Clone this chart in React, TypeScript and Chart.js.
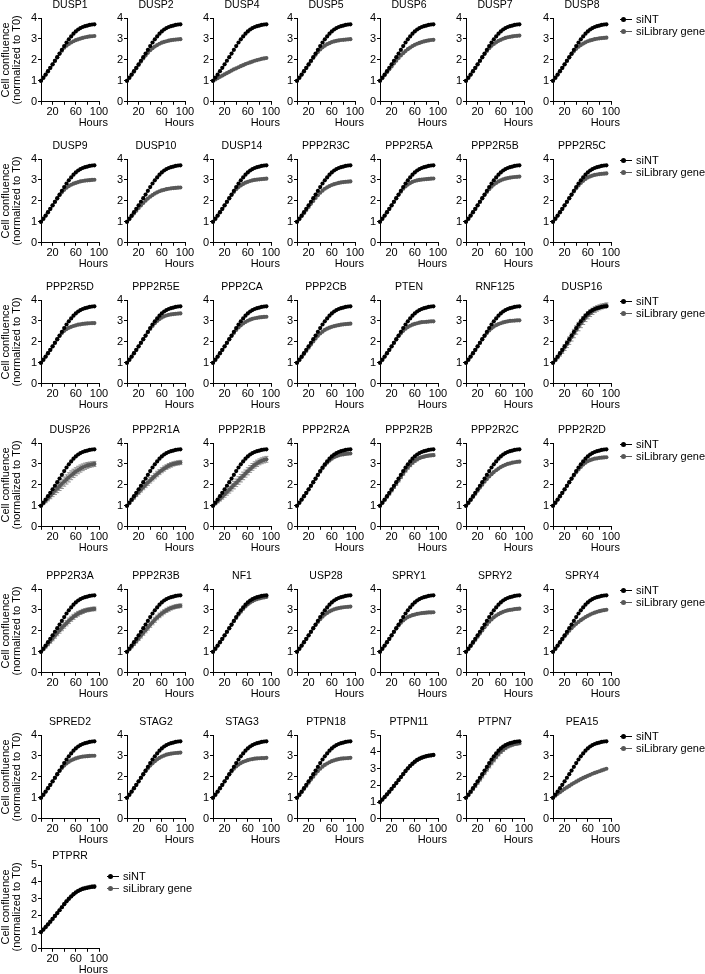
import React, { useEffect, useRef } from 'react';
import { Chart, registerables } from 'chart.js';

Chart.register(...registerables);
Chart.defaults.font.family = "'Liberation Sans', Arial, sans-serif";
Chart.defaults.color = '#000';

// ---------- data ----------
const hours = [0, 4, 8, 12, 16, 20, 24, 28, 32, 36, 40, 44, 48, 52, 56, 60, 64, 68, 72, 76, 80, 84, 88, 92];
const xTickLabels = [20, 60, 100];
const legendLabels = ['siNT', 'siLibrary gene'];
const yTitle = ['Cell confluence', '(normalized to T0)'];

const siNT = [1.00, 1.15, 1.30, 1.46, 1.62, 1.79, 1.96, 2.13, 2.30, 2.48, 2.66, 2.83, 2.98, 3.12, 3.25, 3.36, 3.45, 3.52, 3.57, 3.61, 3.64, 3.67, 3.69, 3.70];
const siNT_PTPN11 = [1.00, 1.15, 1.30, 1.46, 1.62, 1.79, 1.96, 2.13, 2.31, 2.49, 2.67, 2.85, 3.01, 3.16, 3.29, 3.41, 3.51, 3.59, 3.65, 3.70, 3.74, 3.77, 3.79, 3.81];

const DUSP1 = [1.00, 1.14, 1.29, 1.45, 1.61, 1.78, 1.95, 2.12, 2.29, 2.44, 2.58, 2.68, 2.76, 2.83, 2.89, 2.94, 2.98, 3.02, 3.05, 3.08, 3.10, 3.12, 3.13, 3.14];
const DUSP2 = [1.00, 1.14, 1.29, 1.44, 1.60, 1.76, 1.92, 2.07, 2.21, 2.34, 2.46, 2.56, 2.64, 2.71, 2.77, 2.82, 2.86, 2.89, 2.92, 2.94, 2.96, 2.97, 2.98, 2.99];
const DUSP4 = [1.00, 1.07, 1.13, 1.19, 1.25, 1.31, 1.37, 1.43, 1.49, 1.55, 1.60, 1.65, 1.70, 1.75, 1.80, 1.84, 1.88, 1.92, 1.96, 1.99, 2.02, 2.05, 2.07, 2.09];
const DUSP5 = [1.00, 1.14, 1.29, 1.45, 1.61, 1.77, 1.93, 2.09, 2.24, 2.38, 2.50, 2.60, 2.68, 2.75, 2.80, 2.85, 2.88, 2.91, 2.93, 2.95, 2.96, 2.97, 2.98, 2.99];
const DUSP6 = [1.00, 1.13, 1.27, 1.41, 1.55, 1.69, 1.83, 1.96, 2.09, 2.21, 2.32, 2.42, 2.51, 2.59, 2.66, 2.72, 2.77, 2.81, 2.85, 2.88, 2.91, 2.93, 2.95, 2.96];
const DUSP7 = [1.00, 1.14, 1.29, 1.45, 1.61, 1.78, 1.95, 2.12, 2.28, 2.43, 2.56, 2.67, 2.76, 2.84, 2.91, 2.96, 3.01, 3.05, 3.08, 3.10, 3.12, 3.14, 3.15, 3.16];
const DUSP8 = [1.00, 1.14, 1.29, 1.45, 1.61, 1.78, 1.95, 2.11, 2.27, 2.41, 2.53, 2.63, 2.71, 2.78, 2.84, 2.89, 2.93, 2.96, 2.99, 3.01, 3.03, 3.04, 3.05, 3.06];

const DUSP9 = [1.00, 1.14, 1.29, 1.45, 1.61, 1.78, 1.95, 2.11, 2.27, 2.41, 2.53, 2.63, 2.71, 2.77, 2.82, 2.86, 2.90, 2.93, 2.95, 2.97, 2.98, 2.99, 3.00, 3.01];
const DUSP10 = [1.00, 1.13, 1.27, 1.40, 1.53, 1.66, 1.78, 1.90, 2.01, 2.11, 2.20, 2.28, 2.35, 2.41, 2.46, 2.50, 2.53, 2.56, 2.58, 2.60, 2.61, 2.62, 2.63, 2.64];
const DUSP14 = [1.00, 1.14, 1.29, 1.45, 1.61, 1.78, 1.95, 2.12, 2.28, 2.43, 2.56, 2.66, 2.74, 2.81, 2.87, 2.91, 2.95, 2.98, 3.00, 3.02, 3.03, 3.04, 3.05, 3.06];
const PPP2R3C = [1.00, 1.13, 1.27, 1.41, 1.56, 1.71, 1.86, 2.00, 2.14, 2.27, 2.39, 2.49, 2.58, 2.65, 2.71, 2.76, 2.80, 2.83, 2.86, 2.88, 2.90, 2.91, 2.92, 2.93];
const PPP2R5A = [1.00, 1.14, 1.29, 1.45, 1.61, 1.78, 1.95, 2.12, 2.29, 2.44, 2.58, 2.69, 2.78, 2.85, 2.91, 2.95, 2.98, 3.00, 3.02, 3.03, 3.04, 3.05, 3.06, 3.07];
const PPP2R5B = [1.00, 1.14, 1.29, 1.45, 1.61, 1.78, 1.95, 2.12, 2.28, 2.43, 2.56, 2.68, 2.78, 2.86, 2.93, 2.98, 3.03, 3.06, 3.09, 3.11, 3.13, 3.14, 3.15, 3.16];
const PPP2R5C = [1.00, 1.14, 1.29, 1.45, 1.61, 1.78, 1.95, 2.12, 2.29, 2.45, 2.60, 2.74, 2.86, 2.96, 3.05, 3.12, 3.17, 3.21, 3.24, 3.26, 3.28, 3.29, 3.30, 3.31];

const PPP2R5D = [1.00, 1.14, 1.29, 1.45, 1.61, 1.78, 1.95, 2.12, 2.28, 2.42, 2.53, 2.61, 2.67, 2.72, 2.76, 2.79, 2.82, 2.84, 2.86, 2.87, 2.88, 2.89, 2.90, 2.90];
const PPP2R5E = [1.00, 1.14, 1.29, 1.45, 1.61, 1.78, 1.95, 2.12, 2.29, 2.46, 2.62, 2.76, 2.89, 3.00, 3.09, 3.16, 3.22, 3.26, 3.29, 3.31, 3.33, 3.34, 3.35, 3.36];
const PPP2CA = [1.00, 1.14, 1.29, 1.45, 1.61, 1.78, 1.95, 2.12, 2.28, 2.43, 2.57, 2.69, 2.79, 2.88, 2.95, 3.01, 3.06, 3.10, 3.13, 3.15, 3.17, 3.18, 3.19, 3.20];
const PPP2CB = [1.00, 1.13, 1.27, 1.42, 1.57, 1.72, 1.87, 2.02, 2.16, 2.29, 2.40, 2.49, 2.57, 2.63, 2.68, 2.72, 2.75, 2.78, 2.80, 2.82, 2.84, 2.85, 2.86, 2.87];
const PTEN = [1.00, 1.14, 1.29, 1.45, 1.61, 1.78, 1.95, 2.11, 2.27, 2.41, 2.53, 2.63, 2.71, 2.77, 2.82, 2.86, 2.89, 2.92, 2.94, 2.95, 2.96, 2.97, 2.98, 2.98];
const RNF125 = [1.00, 1.14, 1.29, 1.45, 1.61, 1.78, 1.95, 2.12, 2.28, 2.42, 2.55, 2.65, 2.73, 2.80, 2.85, 2.89, 2.93, 2.96, 2.98, 3.00, 3.01, 3.02, 3.03, 3.03];
const DUSP16 = [1.00, 1.13, 1.27, 1.42, 1.57, 1.73, 1.89, 2.06, 2.23, 2.40, 2.57, 2.73, 2.88, 3.02, 3.15, 3.27, 3.37, 3.46, 3.54, 3.60, 3.65, 3.69, 3.72, 3.75];

const DUSP26 = [1.00, 1.12, 1.24, 1.36, 1.48, 1.60, 1.72, 1.83, 1.94, 2.05, 2.16, 2.26, 2.36, 2.46, 2.55, 2.63, 2.71, 2.78, 2.84, 2.89, 2.93, 2.96, 2.98, 3.00];
const PPP2R1A = [1.00, 1.13, 1.27, 1.40, 1.53, 1.65, 1.77, 1.89, 2.00, 2.11, 2.22, 2.32, 2.42, 2.52, 2.61, 2.70, 2.78, 2.85, 2.91, 2.96, 3.00, 3.03, 3.05, 3.07];
const PPP2R1B = [1.00, 1.11, 1.22, 1.33, 1.44, 1.55, 1.66, 1.77, 1.88, 1.99, 2.10, 2.21, 2.32, 2.43, 2.54, 2.65, 2.76, 2.86, 2.95, 3.03, 3.10, 3.15, 3.19, 3.22];
const PPP2R2A = [1.00, 1.14, 1.29, 1.45, 1.61, 1.78, 1.95, 2.12, 2.29, 2.46, 2.63, 2.79, 2.94, 3.06, 3.16, 3.25, 3.32, 3.37, 3.41, 3.44, 3.46, 3.48, 3.49, 3.50];
const PPP2R2B = [1.00, 1.14, 1.28, 1.43, 1.58, 1.74, 1.90, 2.06, 2.22, 2.38, 2.54, 2.69, 2.83, 2.95, 3.06, 3.15, 3.22, 3.28, 3.32, 3.35, 3.38, 3.40, 3.41, 3.42];
const PPP2R2C = [1.00, 1.13, 1.27, 1.42, 1.57, 1.72, 1.87, 2.01, 2.15, 2.28, 2.40, 2.51, 2.61, 2.70, 2.78, 2.85, 2.91, 2.96, 3.00, 3.03, 3.06, 3.08, 3.10, 3.11];
const PPP2R2D = [1.00, 1.14, 1.29, 1.45, 1.61, 1.78, 1.95, 2.12, 2.29, 2.45, 2.60, 2.74, 2.86, 2.97, 3.06, 3.13, 3.18, 3.22, 3.25, 3.27, 3.29, 3.30, 3.31, 3.32];

const PPP2R3A = [1.00, 1.12, 1.25, 1.38, 1.51, 1.64, 1.77, 1.90, 2.02, 2.14, 2.26, 2.37, 2.48, 2.58, 2.67, 2.75, 2.82, 2.88, 2.93, 2.97, 3.00, 3.02, 3.04, 3.05];
const PPP2R3B = [1.00, 1.12, 1.25, 1.38, 1.51, 1.64, 1.77, 1.90, 2.03, 2.16, 2.29, 2.41, 2.53, 2.64, 2.74, 2.83, 2.91, 2.98, 3.04, 3.09, 3.13, 3.16, 3.18, 3.20];
const NF1 = [1.00, 1.14, 1.29, 1.45, 1.61, 1.78, 1.95, 2.12, 2.29, 2.46, 2.62, 2.78, 2.92, 3.05, 3.17, 3.27, 3.35, 3.42, 3.48, 3.52, 3.55, 3.58, 3.60, 3.62];
const USP28 = [1.00, 1.14, 1.29, 1.45, 1.61, 1.78, 1.95, 2.12, 2.28, 2.43, 2.56, 2.68, 2.78, 2.86, 2.93, 2.98, 3.03, 3.06, 3.09, 3.11, 3.13, 3.14, 3.15, 3.16];
const SPRY1 = [1.00, 1.14, 1.29, 1.45, 1.61, 1.78, 1.95, 2.11, 2.26, 2.39, 2.50, 2.59, 2.66, 2.71, 2.75, 2.78, 2.81, 2.83, 2.85, 2.86, 2.87, 2.88, 2.88, 2.89];
const SPRY2 = [1.00, 1.13, 1.27, 1.42, 1.57, 1.72, 1.87, 2.02, 2.17, 2.31, 2.44, 2.55, 2.65, 2.73, 2.80, 2.86, 2.91, 2.95, 2.98, 3.00, 3.02, 3.04, 3.05, 3.06];
const SPRY4 = [1.00, 1.14, 1.29, 1.44, 1.59, 1.74, 1.88, 2.01, 2.13, 2.24, 2.34, 2.43, 2.51, 2.59, 2.66, 2.72, 2.78, 2.83, 2.87, 2.91, 2.94, 2.97, 2.99, 3.01];

const SPRED2 = [1.00, 1.14, 1.29, 1.45, 1.61, 1.78, 1.95, 2.12, 2.28, 2.42, 2.54, 2.64, 2.72, 2.79, 2.84, 2.88, 2.92, 2.95, 2.97, 2.98, 2.99, 3.00, 3.01, 3.01];
const STAG2 = [1.00, 1.14, 1.29, 1.45, 1.61, 1.78, 1.95, 2.11, 2.27, 2.41, 2.54, 2.65, 2.75, 2.84, 2.91, 2.97, 3.02, 3.06, 3.09, 3.11, 3.13, 3.14, 3.15, 3.16];
const STAG3 = [1.00, 1.14, 1.29, 1.45, 1.61, 1.78, 1.95, 2.11, 2.26, 2.39, 2.50, 2.59, 2.66, 2.72, 2.76, 2.80, 2.83, 2.85, 2.87, 2.88, 2.89, 2.90, 2.90, 2.91];
const PTPN18 = [1.00, 1.13, 1.27, 1.42, 1.57, 1.72, 1.87, 2.01, 2.15, 2.28, 2.39, 2.49, 2.57, 2.64, 2.70, 2.75, 2.79, 2.82, 2.85, 2.87, 2.88, 2.89, 2.90, 2.91];
const PTPN11 = [1.00, 1.14, 1.29, 1.45, 1.61, 1.78, 1.95, 2.12, 2.30, 2.48, 2.66, 2.84, 3.00, 3.15, 3.28, 3.40, 3.50, 3.58, 3.64, 3.69, 3.73, 3.76, 3.78, 3.80];
const PTPN7 = [1.00, 1.13, 1.27, 1.42, 1.57, 1.73, 1.89, 2.05, 2.21, 2.37, 2.53, 2.68, 2.82, 2.96, 3.09, 3.20, 3.30, 3.38, 3.45, 3.50, 3.54, 3.57, 3.59, 3.61];
const PEA15 = [1.00, 1.10, 1.19, 1.27, 1.35, 1.43, 1.50, 1.57, 1.64, 1.71, 1.77, 1.83, 1.89, 1.95, 2.00, 2.05, 2.10, 2.15, 2.19, 2.23, 2.27, 2.31, 2.35, 2.39];

const PTPRR = [1.00, 1.14, 1.29, 1.45, 1.61, 1.78, 1.95, 2.12, 2.30, 2.48, 2.66, 2.83, 2.99, 3.13, 3.26, 3.37, 3.46, 3.53, 3.59, 3.63, 3.67, 3.70, 3.72, 3.74];

// standard deviations (only panels that show error bars)
const errDUSP16 = [0.00, 0.05, 0.08, 0.10, 0.12, 0.14, 0.16, 0.18, 0.19, 0.20, 0.20, 0.20, 0.20, 0.19, 0.18, 0.17, 0.16, 0.15, 0.14, 0.13, 0.12, 0.12, 0.11, 0.11];
const errDUSP26 = [0.00, 0.06, 0.09, 0.12, 0.14, 0.16, 0.18, 0.20, 0.21, 0.22, 0.22, 0.22, 0.22, 0.21, 0.20, 0.19, 0.18, 0.17, 0.16, 0.15, 0.14, 0.13, 0.12, 0.12];
const errPPP2R1A = [0.00, 0.04, 0.06, 0.08, 0.09, 0.10, 0.11, 0.12, 0.13, 0.13, 0.13, 0.13, 0.13, 0.13, 0.12, 0.12, 0.12, 0.11, 0.11, 0.11, 0.10, 0.10, 0.10, 0.10];
const errPPP2R1B = [0.00, 0.05, 0.08, 0.10, 0.12, 0.14, 0.15, 0.16, 0.17, 0.18, 0.18, 0.18, 0.18, 0.18, 0.17, 0.17, 0.16, 0.16, 0.15, 0.15, 0.14, 0.14, 0.14, 0.14];
const errPPP2R2B = [0.00, 0.03, 0.04, 0.05, 0.06, 0.07, 0.07, 0.08, 0.08, 0.08, 0.08, 0.08, 0.08, 0.08, 0.07, 0.07, 0.07, 0.06, 0.06, 0.06, 0.06, 0.06, 0.06, 0.06];
const errPPP2R3A = [0.00, 0.05, 0.07, 0.09, 0.10, 0.11, 0.12, 0.13, 0.13, 0.13, 0.13, 0.13, 0.13, 0.12, 0.12, 0.11, 0.11, 0.10, 0.10, 0.09, 0.09, 0.09, 0.09, 0.09];
const errPPP2R3B = [0.00, 0.04, 0.06, 0.08, 0.09, 0.10, 0.11, 0.11, 0.12, 0.12, 0.12, 0.12, 0.12, 0.11, 0.11, 0.11, 0.10, 0.10, 0.10, 0.09, 0.09, 0.09, 0.09, 0.09];
const errPTPN7 = [0.00, 0.03, 0.05, 0.06, 0.07, 0.08, 0.09, 0.10, 0.10, 0.10, 0.10, 0.10, 0.10, 0.09, 0.09, 0.08, 0.08, 0.08, 0.07, 0.07, 0.07, 0.07, 0.07, 0.07];

// panel table: name, library series, control series, error, y max
const panels: [string, number[], number[], number[] | null, number][] = [
  ['DUSP1', DUSP1, siNT, null, 4], ['DUSP2', DUSP2, siNT, null, 4], ['DUSP4', DUSP4, siNT, null, 4],
  ['DUSP5', DUSP5, siNT, null, 4], ['DUSP6', DUSP6, siNT, null, 4], ['DUSP7', DUSP7, siNT, null, 4], ['DUSP8', DUSP8, siNT, null, 4],
  ['DUSP9', DUSP9, siNT, null, 4], ['DUSP10', DUSP10, siNT, null, 4], ['DUSP14', DUSP14, siNT, null, 4],
  ['PPP2R3C', PPP2R3C, siNT, null, 4], ['PPP2R5A', PPP2R5A, siNT, null, 4], ['PPP2R5B', PPP2R5B, siNT, null, 4], ['PPP2R5C', PPP2R5C, siNT, null, 4],
  ['PPP2R5D', PPP2R5D, siNT, null, 4], ['PPP2R5E', PPP2R5E, siNT, null, 4], ['PPP2CA', PPP2CA, siNT, null, 4],
  ['PPP2CB', PPP2CB, siNT, null, 4], ['PTEN', PTEN, siNT, null, 4], ['RNF125', RNF125, siNT, null, 4], ['DUSP16', DUSP16, siNT, errDUSP16, 4],
  ['DUSP26', DUSP26, siNT, errDUSP26, 4], ['PPP2R1A', PPP2R1A, siNT, errPPP2R1A, 4], ['PPP2R1B', PPP2R1B, siNT, errPPP2R1B, 4],
  ['PPP2R2A', PPP2R2A, siNT, null, 4], ['PPP2R2B', PPP2R2B, siNT, errPPP2R2B, 4], ['PPP2R2C', PPP2R2C, siNT, null, 4], ['PPP2R2D', PPP2R2D, siNT, null, 4],
  ['PPP2R3A', PPP2R3A, siNT, errPPP2R3A, 4], ['PPP2R3B', PPP2R3B, siNT, errPPP2R3B, 4], ['NF1', NF1, siNT, null, 4],
  ['USP28', USP28, siNT, null, 4], ['SPRY1', SPRY1, siNT, null, 4], ['SPRY2', SPRY2, siNT, null, 4], ['SPRY4', SPRY4, siNT, null, 4],
  ['SPRED2', SPRED2, siNT, null, 4], ['STAG2', STAG2, siNT, null, 4], ['STAG3', STAG3, siNT, null, 4],
  ['PTPN18', PTPN18, siNT, null, 4], ['PTPN11', PTPN11, siNT_PTPN11, null, 5], ['PTPN7', PTPN7, siNT, errPTPN7, 4], ['PEA15', PEA15, siNT, null, 4],
  ['PTPRR', PTPRR, siNT, null, 5],
];

// ---------- layout ----------
const colX = [41, 127, 213, 297, 380, 466, 553];
const rowTop = [18, 159, 300, 443, 589, 735, 865];
const LEFT = 41;
const TITLE_H = 20;
const CANVAS_W = 108;
const CANVAS_H = 134;
const FONT = "'Liberation Sans', Arial, sans-serif";
const NT_COLOR = '#000000';
const LIB_COLOR = '#585858';
const ERR_COLOR = '#909090';

const errorBarPlugin = {
  id: 'errorBars',
  beforeDatasetsDraw(chart: any) {
    const { ctx } = chart;
    chart.data.datasets.forEach((ds: any, di: number) => {
      if (!ds.errors) return;
      const meta = chart.getDatasetMeta(di);
      const xs = meta.xScale;
      const ys = meta.yScale;
      ctx.save();
      ctx.strokeStyle = ERR_COLOR;
      ctx.lineWidth = 1;
      ds.data.forEach((pt: any, i: number) => {
        const e = ds.errors[i];
        if (!e) return;
        const x = xs.getPixelForValue(pt.x);
        const y1 = ys.getPixelForValue(pt.y + e);
        const y2 = ys.getPixelForValue(pt.y - e);
        ctx.beginPath();
        ctx.moveTo(x, y1); ctx.lineTo(x, y2);
        ctx.moveTo(x - 2, y1); ctx.lineTo(x + 2, y1);
        ctx.moveTo(x - 2, y2); ctx.lineTo(x + 2, y2);
        ctx.stroke();
      });
      ctx.restore();
    });
  },
};

function Panel({ idx }: { idx: number }) {
  const ref = useRef<HTMLCanvasElement>(null);
  const [name, lib, nt, err, ymax] = panels[idx];
  const col = idx % 7;
  const row = Math.floor(idx / 7);
  const left = colX[col] - LEFT;
  const top = rowTop[row] - TITLE_H;
  const lastRow = row === 6;

  useEffect(() => {
    if (!ref.current) return;
    const axisGrid = { display: true, drawOnChartArea: false, drawTicks: true, tickLength: 3, color: '#000', lineWidth: 1 };
    const chart = new Chart(ref.current, {
      type: 'line',
      data: {
        datasets: [
          {
            label: legendLabels[0],
            data: hours.map((h, i) => ({ x: h, y: nt[i] })),
            borderColor: NT_COLOR, backgroundColor: NT_COLOR,
            borderWidth: 1, pointRadius: 2.1, pointBorderWidth: 0, tension: 0, clip: false,
          },
          {
            label: legendLabels[1],
            data: hours.map((h, i) => ({ x: h, y: lib[i] })),
            borderColor: LIB_COLOR, backgroundColor: LIB_COLOR,
            borderWidth: 1, pointRadius: 2.1, pointBorderWidth: 0, tension: 0, clip: false,
            errors: err,
          } as any,
        ],
      },
      options: {
        animation: false,
        responsive: false,
        maintainAspectRatio: false,
        layout: { padding: 0 },
        plugins: {
          legend: { display: false },
          tooltip: { enabled: false },
          title: {
            display: true, text: name, fullSize: false, color: '#000',
            font: { size: 10.5, family: FONT, weight: 'normal', lineHeight: 1.2 },
            padding: lastRow ? { top: 5, bottom: 2.4 } : { top: 1, bottom: 6.4 },
          },
          subtitle: {
            display: true, text: 'Hours', position: 'bottom', align: 'end', color: '#000',
            font: { size: 11, family: FONT, weight: 'normal' }, padding: { top: 0, bottom: 2 },
          },
        },
        scales: {
          x: {
            type: 'linear', min: 0, max: 100,
            border: { display: true, color: '#000', width: 1 },
            grid: axisGrid,
            ticks: {
              stepSize: 20, autoSkip: false, maxRotation: 0, padding: 1, color: '#000',
              font: { size: 11, family: FONT },
              callback: (v: any) => (xTickLabels.includes(Number(v)) ? String(v) : ''),
            },
            afterFit: (s: any) => { s.height = 15; s.paddingLeft = 0; s.paddingRight = 9; },
          },
          y: {
            type: 'linear', min: 0, max: ymax,
            border: { display: true, color: '#000', width: 1 },
            grid: axisGrid,
            ticks: { stepSize: 1, padding: 1, color: '#000', font: { size: 11, family: FONT } },
            title: col === 0
              ? { display: true, text: yTitle, color: '#000', font: { size: 11, family: FONT, lineHeight: 1.05 }, padding: 0 }
              : { display: false },
            afterFit: (s: any) => { s.width = LEFT; },
          },
        },
      } as any,
      plugins: [errorBarPlugin],
    });
    return () => chart.destroy();
  }, [idx]);

  return (
    <canvas
      ref={ref}
      width={CANVAS_W}
      height={CANVAS_H}
      style={{ position: 'absolute', left, top, width: CANVAS_W, height: CANVAS_H }}
    />
  );
}

function LegendBlock({ left, top }: { left: number; top: number }) {
  const colors = [NT_COLOR, LIB_COLOR];
  return (
    <div style={{ position: 'absolute', left, top, font: `11px ${FONT}`, color: '#000', lineHeight: '12px', whiteSpace: 'nowrap' }}>
      {legendLabels.map((lab, i) => (
        <div key={lab} style={{ display: 'flex', alignItems: 'center', height: 12 }}>
          <span style={{ position: 'relative', display: 'inline-block', width: 12, height: 5, marginRight: 4 }}>
            <span style={{ position: 'absolute', left: 0, top: 2, width: 12, height: 1, background: colors[i] }} />
            <span style={{ position: 'absolute', left: 1, top: 0, width: 5, height: 5, borderRadius: '50%', background: colors[i] }} />
          </span>
          <span>{lab}</span>
        </div>
      ))}
    </div>
  );
}

export default function App() {
  return (
    <div style={{ position: 'absolute', left: 0, top: 0, width: 705, height: 974, background: '#fff', overflow: 'hidden' }}>
      {panels.map((_, i) => <Panel key={i} idx={i} />)}
      {[0, 1, 2, 3, 4, 5].map((r) => <LegendBlock key={r} left={620} top={rowTop[r] - 5} />)}
      <LegendBlock left={107} top={870} />
    </div>
  );
}
